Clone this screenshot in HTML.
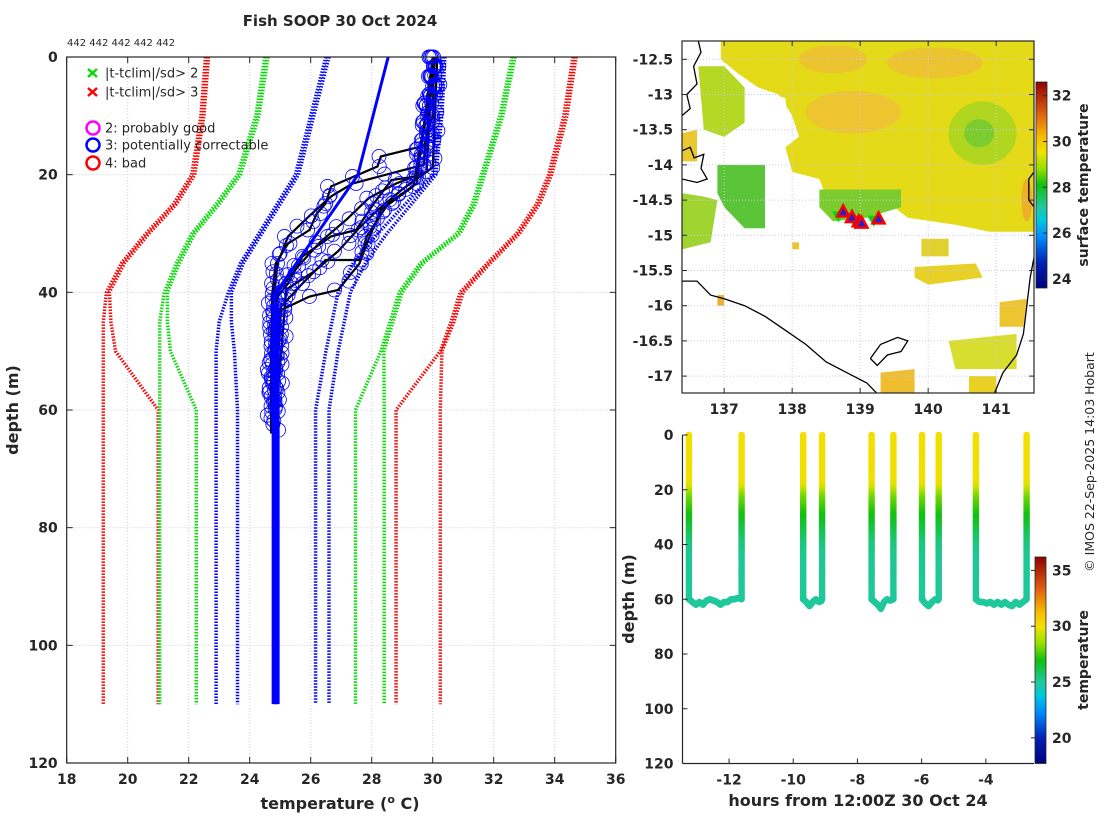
<!DOCTYPE html>
<html><head><meta charset="utf-8"><style>
html,body{margin:0;padding:0;background:#fff;}
svg{display:block;}
text{font-family:"DejaVu Sans","Liberation Sans",sans-serif;fill:#262626;}
.tk{font-size:14px;font-weight:bold;}
.ttl{font-size:16px;font-weight:bold;}
.lg{font-size:13px;}
</style></head><body>
<svg id="fig" width="1100" height="820" viewBox="0 0 1100 820" xmlns="http://www.w3.org/2000/svg">
<text x="340" y="26" text-anchor="middle" style="font-size:15px;font-weight:bold">Fish SOOP 30 Oct 2024</text>
<text x="67" y="46" style="font-size:10px">442 442 442 442 442</text>
<g id="left"></g>
<g id="map"></g>
<g id="td"></g>
<text transform="translate(1094,462) rotate(-90)" text-anchor="middle" style="font-size:12.5px">© IMOS 22-Sep-2025 14:03 Hobart</text>
</svg>
<script>
// ---------- data: profile plot ----------
const climDepths = [0,10,20,25,30,35,40,45,50,60,110];
const redL1 = [22.55,22.4,22.1,21.5,20.6,19.8,19.3,19.2,19.2,19.2,19.2];
const redL2 = [22.65,22.5,22.2,21.6,20.7,19.9,19.4,19.45,19.6,21.0,21.0];
const greenL1 = [24.5,24.2,23.6,22.9,22.1,21.6,21.2,21.05,21.05,21.05,21.05];
const greenL2 = [24.6,24.3,23.7,23.0,22.2,21.7,21.3,21.3,21.4,22.25,22.25];
const blueL1 = [26.5,26.0,25.5,24.9,24.3,23.7,23.3,23.0,22.9,22.9,22.9];
const blueL2 = [26.6,26.1,25.6,25.0,24.4,23.8,23.4,23.4,23.5,23.6,23.6];
const blueR1 = [30.3,30.2,30.0,29.1,28.2,27.4,26.9,26.7,26.5,26.16,26.16];
const blueR2 = [30.4,30.3,30.1,29.3,28.5,27.8,27.3,27.1,26.9,26.6,26.6];
const greenR1 = [32.6,32.2,31.6,31.3,30.8,29.6,28.9,28.6,28.3,27.47,27.47];
const greenR2 = [32.7,32.3,31.7,31.4,30.9,29.7,29.0,28.7,28.4,28.41,28.41];
const redR1 = [34.6,34.3,33.8,33.4,32.75,31.8,30.9,30.6,30.25,28.8,28.8];
const redR2 = [34.7,34.4,33.9,33.5,32.85,31.9,31.0,30.7,30.3,30.25,30.25];
// observed profiles: [temp], [depth]
const profT1 = [30.05,30.0,29.71,28.30,28.19,26.67,26.49,26.20,25.96,25.26,24.85,24.74,24.7,24.7];
const profD1 = [0,10,15.1,16.9,18.6,22.0,24.9,26.6,29.4,31.7,35.1,40.2,50,64];
const profT2 = [30.05,29.71,27.37,26.67,25.96,25.26,24.91,24.80,24.7,24.8];
const profD2 = [0,18.3,21.5,23.7,27.0,30.5,35.1,40.7,52,62];
const profT3 = [30.1,29.47,28.65,28.07,27.49,26.67,25.73,25.26,24.80,24.7];
const profD3 = [0,20.3,20.9,24.9,29.4,30.5,33.9,38.5,41.3,60];
const profT4 = [30.0,29.47,28.54,27.84,27.60,26.49,25.73,25.03,24.8];
const profD4 = [0,21.5,24.9,30.5,34.5,34.5,38.5,42.4,63];
const profT5 = [30.1,29.36,28.30,27.84,27.60,26.90,25.96,25.03,24.7];
const profD5 = [0,22.0,26.0,31.7,35.1,39.6,40.7,43.0,61];
const profT6 = [30.0,29.8,28.8,27.9,27.2,26.3,25.6,24.9,24.75];
const profD6 = [0,19.5,21.5,24.0,27.5,31.5,35.5,40.0,58];
const profT7 = [30.15,30.0,29.0,28.2,27.6,26.9,26.1,25.2,24.8];
const profD7 = [0,18.8,22.5,26.0,29.0,33.0,36.5,39.5,65];
const blueLineT = [28.54,27.54,24.80,24.85,24.85];
const blueLineD = [0,20.1,40.5,45,110];
const xTicks = [18,20,22,24,26,28,30,32,34,36];
const yTicks = [0,20,40,60,80,100,120];

// ---------- data: map ----------
const mapLonTicks = [137,138,139,140,141];
const mapLatTicks = [-12.5,-13,-13.5,-14,-14.5,-15,-15.5,-16,-16.5,-17];
const triLons = [138.75,138.88,138.98,139.02,139.27];
const triLats = [-14.66,-14.74,-14.8,-14.82,-14.76];
const invLons = [138.68,138.93,139.2];
const invLats = [-14.72,-14.82,-14.78];
const sstTicks = [24,26,28,30,32];

// ---------- data: time-depth ----------
const castDown = [-13.25,-9.69,-7.56,-5.99,-4.31];
const castUp = [-11.61,-9.10,-6.88,-5.47,-2.73];
const castBottom = [
 [60,61,62,61,62,60.5,60,60.5,61,62,61,61,60,60,59.5,60],
 [60,61,62.5,61,60,61,60.5],
 [60,61,62,63.5,61,60,60.5,60],
 [60,61.5,62.5,61,60,60.5],
 [60,61,61,61.5,61,62,61,62,61,62,62.5,61,62,61,60]
];
const profDepth = [0,15,19,21,23,25,28,32,36,40,45,60,65];
const profTemp = [30.0,30.0,29.6,28.6,28.0,27.7,27.2,26.6,26.0,25.4,25.1,25.0,25.0];
const tdXTicks = [-12,-10,-8,-6,-4];
const tdYTicks = [0,20,40,60,80,100,120];
const tempTicks = [20,25,30,35];

const NS='http://www.w3.org/2000/svg';
function el(tag, attrs, parent, txt){const e=document.createElementNS(NS,tag);for(const k in attrs)e.setAttribute(k,attrs[k]);if(txt!==undefined)e.textContent=txt;parent.appendChild(e);return e;}

const cmStops=[[0,[0,0,128]],[0.12,[0,32,176]],[0.25,[0,140,255]],[0.33,[0,200,220]],[0.39,[32,200,160]],[0.5,[16,192,16]],[0.58,[150,224,0]],[0.66,[240,226,0]],[0.73,[248,190,0]],[0.84,[224,100,16]],[1,[144,0,0]]];
function cmap(f){f=Math.max(0,Math.min(1,f));for(let i=1;i<cmStops.length;i++){if(f<=cmStops[i][0]){const a=cmStops[i-1],b=cmStops[i];const u=(f-a[0])/(b[0]-a[0]);const c=a[1].map((v,j)=>Math.round(v+(b[1][j]-v)*u));return `rgb(${c[0]},${c[1]},${c[2]})`;}}return 'rgb(144,0,0)';}

// ================= LEFT PROFILE PLOT =================
(function(){
 const g=document.getElementById('left');
 const L=66.7,R=615.7,T=57,B=763;
 const X=t=>L+(t-18)*(R-L)/18, Y=d=>T+d*(B-T)/120;
 xTicks.forEach(t=>{if(t>18&&t<36){const l=el('line',{x1:X(t),x2:X(t),y1:T,y2:B,stroke:'#c8cce6','stroke-width':1,'stroke-dasharray':'1 2'},g);}});
 yTicks.forEach(d=>{if(d>0&&d<120){const l=el('line',{x1:L,x2:R,y1:Y(d),y2:Y(d),stroke:'#c8cce6','stroke-width':1,'stroke-dasharray':'1 2'},g);}});
 const clim=[[redL1,'#ff0000','clim-red-low-1'],[redL2,'#ff0000','clim-red-low-2'],[greenL1,'#00dd00','clim-green-low-1'],[greenL2,'#00dd00','clim-green-low-2'],[blueL1,'#0000ff','clim-blue-low-1'],[blueL2,'#0000ff','clim-blue-low-2'],[blueR1,'#0000ff','clim-blue-high-1'],[blueR2,'#0000ff','clim-blue-high-2'],[greenR1,'#00dd00','clim-green-high-1'],[greenR2,'#00dd00','clim-green-high-2'],[redR1,'#ff0000','clim-red-high-1'],[redR2,'#ff0000','clim-red-high-2']];
 clim.forEach(c=>{const pts=c[0].map((t,i)=>X(t).toFixed(1)+','+Y(climDepths[i]).toFixed(1)).join(' ');const p=el('polyline',{points:pts,fill:'none',stroke:c[1],'stroke-width':3.5,'stroke-dasharray':'1.5 1.5'},g);});
 const profs=[[profT1,profD1],[profT2,profD2],[profT3,profD3],[profT4,profD4],[profT5,profD5],[profT6,profD6],[profT7,profD7]];
 profs.forEach((p,k)=>{const pts=p[0].map((t,i)=>X(t).toFixed(1)+','+Y(p[1][i]).toFixed(1)).join(' ');const pl=el('polyline',{points:pts,fill:'none',stroke:'#000','stroke-width':2.2},g);});
 const bl=el('polyline',{points:blueLineT.map((t,i)=>X(t).toFixed(1)+','+Y(blueLineD[i]).toFixed(1)).join(' '),fill:'none',stroke:'#0000ff','stroke-width':3},g);
 
 const thick=el('line',{x1:X(24.85),x2:X(24.85),y1:Y(42),y2:Y(110),stroke:'#0000ff','stroke-width':8},g);
 
 profs.forEach((p,k)=>{for(let i=0;i<p[0].length-1;i++){const n=Math.max(1,Math.round(Math.abs(p[1][i+1]-p[1][i])/1.6));for(let j=0;j<n;j++){const u=j/n;const t=p[0][i]+(p[0][i+1]-p[0][i])*u, d=p[1][i]+(p[1][i+1]-p[1][i])*u;const jit=((i*7+j*3+k*5)%5-2)*0.06;const c=el('circle',{cx:X(t+jit),cy:Y(d),r:7,fill:'none',stroke:'#0000ff','stroke-width':0.8},g);}}});
 el('rect',{x:L,y:T,width:R-L,height:B-T,fill:'none',stroke:'#262626','stroke-width':1.2},g);
 xTicks.forEach(t=>{el('line',{x1:X(t),x2:X(t),y1:B,y2:B-6,stroke:'#262626'},g);el('line',{x1:X(t),x2:X(t),y1:T,y2:T+6,stroke:'#262626'},g);const tx=el('text',{x:X(t),y:B+21,'text-anchor':'middle',class:'tk'},g,String(t));});
 yTicks.forEach(d=>{el('line',{x1:L,x2:L+6,y1:Y(d),y2:Y(d),stroke:'#262626'},g);el('line',{x1:R,x2:R-6,y1:Y(d),y2:Y(d),stroke:'#262626'},g);const tx=el('text',{x:L-9,y:Y(d)+5,'text-anchor':'end',class:'tk'},g,String(d));});
 const xt=el('text',{x:340,y:809,'text-anchor':'middle',class:'ttl'},g);xt.innerHTML='temperature (<tspan dy="-6" style="font-size:11px">o</tspan><tspan dy="6"> C)</tspan>';
 
 const yt=el('text',{transform:'translate(18,410) rotate(-90)','text-anchor':'middle',class:'ttl'},g,'depth (m)');
 
 const lg=el('g',{},g);
 [['#00dd00','|t-tclim|/sd> 2',73],['#ff0000','|t-tclim|/sd> 3',92]].forEach(e=>{const y=e[2];el('path',{d:`M${88},${y-4}L${97},${y+4}M${97},${y-4}L${88},${y+4}`,stroke:e[0],'stroke-width':2.5},lg);const t=el('text',{x:105,y:y+4.5,class:'lg'},lg,e[1]);});
 [['#ff00ff','2: probably good',128],['#0000ff','3: potentially correctable',145],['#ff0000','4: bad',163]].forEach(e=>{el('circle',{cx:93,cy:e[2],r:6.5,fill:'none',stroke:e[0],'stroke-width':2.5},lg);const t=el('text',{x:105,y:e[2]+4.5,class:'lg'},lg,e[1]);});
})();

// ================= MAP =================
(function(){
 const g=document.getElementById('map');
 const L=682,R=1034,T=41,B=393;
 const X=l=>L+(l-136.38)*68, Y=a=>T+(-12.24-a)*70.4;
 const cp=el('clipPath',{id:'mapclip'},g);el('rect',{x:L,y:T,width:R-L,height:B-T},cp);
 const sg=el('g',{'clip-path':'url(#mapclip)'},g);
 const P=(pts,fill,name)=>{const p=el('polygon',{points:pts.map(q=>X(q[0]).toFixed(1)+','+Y(q[1]).toFixed(1)).join(' '),fill:fill},sg);};
 const E=(lon,lat,rx,ry,fill,name)=>{const e=el('ellipse',{cx:X(lon),cy:Y(lat),rx:rx*68,ry:ry*70.4,fill:fill},sg);};
 P([[136.95,-12.24],[141.56,-12.24],[141.56,-14.95],[140.9,-14.95],[140.4,-14.85],[139.7,-14.75],[139.5,-14.6],[139.0,-14.5],[138.5,-14.45],[138.4,-14.2],[138.0,-14.1],[137.9,-13.75],[138.1,-13.6],[138.0,-13.3],[137.8,-13.0],[137.5,-12.9],[137.2,-12.7],[136.95,-12.5]],'#e4da18','sst-main-field');
 E(138.9,-13.25,0.7,0.3,'#eec430','sst-warm-patch');E(140.1,-12.55,0.7,0.22,'#ecc430','sst-warm-patch');E(138.6,-12.5,0.5,0.2,'#ecc430','sst-warm-patch');E(141.45,-14.5,0.08,0.3,'#eeb028','sst-warm-patch');
 E(140.8,-13.55,0.5,0.45,'#b0d620','sst-cool-patch');E(140.75,-13.55,0.22,0.2,'#7ccc30','sst-cool-patch');
 P([[137.3,-12.9],[137.9,-13.05],[137.95,-13.5],[137.75,-13.95],[137.4,-13.8],[137.3,-13.3]],'#ffffff','sst-gap');
 P([[136.62,-12.6],[137.0,-12.6],[137.3,-12.9],[137.3,-13.4],[137.0,-13.6],[136.7,-13.5]],'#b4d824','sst-west-patch');
 P([[136.38,-13.55],[136.6,-13.5],[136.6,-13.95],[136.38,-13.95]],'#eac830','sst-west-patch');
 P([[136.9,-14.0],[137.6,-14.0],[137.6,-14.9],[137.3,-14.9],[137.0,-14.6],[136.9,-14.4]],'#5cc438','sst-green-patch');
 P([[136.38,-14.4],[136.7,-14.45],[136.9,-14.5],[136.8,-15.1],[136.38,-15.2]],'#a0d430','sst-west-patch');
 P([[138.4,-14.35],[139.6,-14.35],[139.6,-14.6],[139.1,-14.75],[138.6,-14.8],[138.4,-14.6]],'#7ccc30','sst-green-band');
 P([[139.8,-15.45],[140.7,-15.4],[140.8,-15.6],[140.0,-15.7],[139.8,-15.6]],'#e8d024','sst-south-patch');
 P([[140.3,-16.5],[141.3,-16.4],[141.3,-16.9],[140.4,-16.9]],'#d8de30','sst-south-patch');
 P([[141.05,-15.95],[141.45,-15.9],[141.4,-16.3],[141.05,-16.3]],'#eec430','sst-south-patch');
 P([[139.3,-16.95],[139.8,-16.9],[139.8,-17.3],[139.3,-17.3]],'#efbe30','sst-south-patch');
 P([[140.6,-17.0],[141.0,-17.0],[141.0,-17.3],[140.6,-17.3]],'#e8d024','sst-south-patch');
 P([[139.9,-15.05],[140.3,-15.05],[140.3,-15.3],[139.9,-15.3]],'#e0d030','sst-south-patch');
 P([[138.0,-15.1],[138.1,-15.1],[138.1,-15.2],[138.0,-15.2]],'#eec430','sst-south-patch');
 P([[136.9,-15.85],[137.0,-15.85],[137.0,-16.0],[136.9,-16.0]],'#eeb030','sst-south-patch');
 mapLonTicks.forEach(l=>el('line',{x1:X(l),x2:X(l),y1:T,y2:B,stroke:'#c8cce6','stroke-dasharray':'1 2'},sg));
 mapLatTicks.forEach(a=>el('line',{x1:L,x2:R,y1:Y(a),y2:Y(a),stroke:'#c8cce6','stroke-dasharray':'1 2'},sg));
 const coast=[
  [[136.62,-12.24],[136.66,-12.4],[136.55,-12.6],[136.6,-12.85],[136.45,-13.0],[136.5,-13.2],[136.38,-13.3]],
  [[136.38,-13.8],[136.5,-13.75],[136.56,-13.9],[136.7,-13.85],[136.66,-14.05],[136.75,-14.2],[136.6,-14.25],[136.38,-14.2]],
  [[136.38,-15.65],[136.6,-15.65],[136.8,-15.85],[137.0,-15.9],[137.3,-16.0],[137.6,-16.15],[137.9,-16.35],[138.2,-16.55],[138.5,-16.8],[138.8,-16.95],[139.1,-17.1],[139.3,-17.3]],
  [[141.56,-14.1],[141.48,-14.2],[141.48,-14.5],[141.56,-14.6]],
  [[141.56,-15.3],[141.5,-15.6],[141.45,-16.0],[141.4,-16.4],[141.3,-16.7],[141.1,-16.95],[140.95,-17.3]],
  [[139.15,-16.75],[139.3,-16.55],[139.55,-16.45],[139.7,-16.5],[139.6,-16.65],[139.4,-16.7],[139.25,-16.85],[139.15,-16.75]]
 ];
 coast.forEach(c=>{const p=el('polyline',{points:c.map(q=>X(q[0]).toFixed(1)+','+Y(q[1]).toFixed(1)).join(' '),fill:'none',stroke:'#000','stroke-width':1.3},sg);});
 invLons.forEach((l,i)=>{const x=X(l),y=Y(invLats[i]);const m=el('path',{d:`M${x-6},${y-4}L${x+6},${y-4}L${x},${y+6}Z`,fill:'#22bb22',stroke:'#00ee00','stroke-width':1},sg);});
 triLons.forEach((l,i)=>{const x=X(l),y=Y(triLats[i]);const m=el('path',{d:`M${x-6},${y+5}L${x+6},${y+5}L${x},${y-6}Z`,fill:'#2222cc',stroke:'#ff0000','stroke-width':2.5},sg);});
 el('rect',{x:L,y:T,width:R-L,height:B-T,fill:'none',stroke:'#262626','stroke-width':1.2},g);
 mapLonTicks.forEach(l=>{el('line',{x1:X(l),x2:X(l),y1:B,y2:B-5,stroke:'#262626'},g);el('line',{x1:X(l),x2:X(l),y1:T,y2:T+5,stroke:'#262626'},g);const t=el('text',{x:X(l),y:B+21,'text-anchor':'middle',class:'tk'},g,String(l));});
 mapLatTicks.forEach(a=>{el('line',{x1:L,x2:L+5,y1:Y(a),y2:Y(a),stroke:'#262626'},g);el('line',{x1:R,x2:R-5,y1:Y(a),y2:Y(a),stroke:'#262626'},g);const t=el('text',{x:L-9,y:Y(a)+5,'text-anchor':'end',class:'tk'},g,String(a));});
 const cb=el('g',{},g);
 const cT=82,cB=288,vmin=23.6,vmax=32.6,CY=v=>cB-(v-vmin)/(vmax-vmin)*(cB-cT);
 const defs=el('defs',{},g);const lgd=el('linearGradient',{id:'cbgrad1',x1:0,y1:1,x2:0,y2:0},defs);
 cmStops.forEach(s=>el('stop',{offset:s[0],'stop-color':`rgb(${s[1].join(',')})`},lgd));
 el('rect',{x:1036,y:cT,width:11,height:cB-cT,fill:'url(#cbgrad1)',stroke:'#262626','stroke-width':0.8},cb);
 sstTicks.forEach(v=>{el('line',{x1:1047,x2:1043,y1:CY(v),y2:CY(v),stroke:'#262626'},cb);const t=el('text',{x:1052,y:CY(v)+5,class:'tk'},cb,String(v));});
 const ct=el('text',{transform:'translate(1088,185) rotate(-90)','text-anchor':'middle',style:'font-size:14px;font-weight:bold'},g,'surface temperature');
 
})();

// ================= TIME-DEPTH =================
(function(){
 const g=document.getElementById('td');
 const L=682.5,R=1034,T=435,B=763.5;
 const X=h=>L+(h+13.45)*32.1, Y=d=>T+d*(B-T)/120;
 const vmin=17.7,vmax=36.2,cf=v=>cmap((v-vmin)/(vmax-vmin));
 function tAt(d){for(let i=1;i<profDepth.length;i++){if(d<=profDepth[i]){const u=(d-profDepth[i-1])/(profDepth[i]-profDepth[i-1]);return profTemp[i-1]+(profTemp[i]-profTemp[i-1])*u;}}return profTemp[profTemp.length-1];}
 const dots=el('g',{},g);
 const dot=(h,d,name)=>{const c=el('circle',{cx:X(h).toFixed(1),cy:Y(d).toFixed(1),r:3.3,fill:cf(tAt(d))},dots);};
 castDown.forEach((t0,i)=>{const t1=castUp[i];const bot=castBottom[i];
  for(let d=0;d<=bot[0];d+=0.8)dot(t0,d,'downcast-point');
  const n=bot.length;for(let k=0;k<n-1;k++){for(let s=0;s<4;s++){const u=(k+s/4)/(n-1);dot(t0+(t1-t0)*u,bot[k]+(bot[k+1]-bot[k])*s/4,'bottom-point');}}
  for(let d=0;d<=bot[n-1];d+=0.8)dot(t1,d,'upcast-point');
 });
 el('line',{x1:L,x2:L,y1:T,y2:B,stroke:'#262626','stroke-width':1.2},g);
 el('line',{x1:L,x2:R,y1:B,y2:B,stroke:'#262626','stroke-width':1.2},g);
 tdXTicks.forEach(h=>{el('line',{x1:X(h),x2:X(h),y1:B,y2:B-5,stroke:'#262626'},g);const t=el('text',{x:X(h),y:B+21,'text-anchor':'middle',class:'tk'},g,String(h));});
 tdYTicks.forEach(d=>{el('line',{x1:L,x2:L+5,y1:Y(d),y2:Y(d),stroke:'#262626'},g);const t=el('text',{x:L-9,y:Y(d)+5,'text-anchor':'end',class:'tk'},g,String(d));});
 const xt=el('text',{x:858,y:806,'text-anchor':'middle',class:'ttl'},g,'hours from 12:00Z 30 Oct 24');
 
 const yt=el('text',{transform:'translate(634,599) rotate(-90)','text-anchor':'middle',class:'ttl'},g,'depth (m)');
 
 const cb=el('g',{},g);
 const cT=557,cB=763.5,CY=v=>cB-(v-vmin)/(vmax-vmin)*(cB-cT);
 const defs=el('defs',{},g);const lgd=el('linearGradient',{id:'cbgrad2',x1:0,y1:1,x2:0,y2:0},defs);
 cmStops.forEach(s=>el('stop',{offset:s[0],'stop-color':`rgb(${s[1].join(',')})`},lgd));
 el('rect',{x:1035,y:cT,width:11,height:cB-cT,fill:'url(#cbgrad2)',stroke:'#262626','stroke-width':0.8},cb);
 tempTicks.forEach(v=>{el('line',{x1:1035,x2:1031,y1:CY(v),y2:CY(v),stroke:'#262626'},cb);const t=el('text',{x:1052,y:CY(v)+5,class:'tk'},cb,String(v));});
 const ct=el('text',{transform:'translate(1088,660) rotate(-90)','text-anchor':'middle',style:'font-size:14px;font-weight:bold'},g,'temperature');
 
})();
</script>
</body></html>
